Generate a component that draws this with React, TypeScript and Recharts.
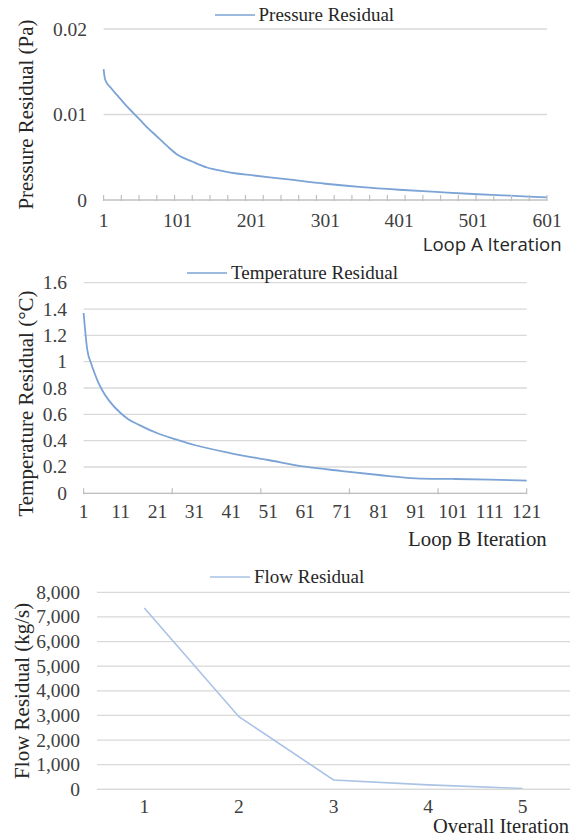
import React from 'react';
import { LineChart, Line, XAxis, YAxis, CartesianGrid, Legend, Label } from 'recharts';

const SERIF = '"Liberation Serif", "Times New Roman", serif';
const SANS = '"Open Sans", "Noto Sans", sans-serif';
const GRID = '#d9d9d9';
const AXIS = '#bfbfbf';
const TICK_TEXT = '#404040';
const TITLE_TEXT = '#262626';
const LINE_BLUE = '#7ba3d6';
const LINE_LIGHT = '#a9c2e5';

// Loop A - pressure residual (Pa) per iteration
const loopAIterations = [1, 3, 11, 21, 31, 41, 51, 61, 71, 81, 91, 101, 121, 141, 161, 181, 201, 251, 301, 351, 401, 451, 501, 551, 601];
const pressureResidual = [0.0153, 0.0141, 0.0131, 0.0121, 0.0111, 0.0102, 0.0093, 0.0084, 0.0076, 0.0068, 0.006, 0.0053, 0.0045, 0.0038, 0.0034, 0.0031, 0.0029, 0.0024, 0.0019, 0.0015, 0.0012, 0.00095, 0.0007, 0.0005, 0.0003];
const loopALabels = [1, 101, 201, 301, 401, 501, 601];
const loopATickMarks = [1, 25, 49, 73, 97, 121, 145, 169, 193, 217, 241, 265, 289, 313, 337, 361, 385, 409, 433, 457, 481, 505, 529, 553, 577, 601];
const pressureTicks = [0, 0.01, 0.02];

// Loop B - temperature residual (°C) per iteration
const loopBIterations = [1, 2, 3, 4, 5, 6, 8, 11, 13, 16, 21, 26, 31, 41, 51, 61, 71, 81, 91, 101, 111, 121];
const temperatureResidual = [1.37, 1.09, 0.99, 0.91, 0.84, 0.785, 0.7, 0.61, 0.565, 0.52, 0.456, 0.41, 0.367, 0.304, 0.253, 0.202, 0.169, 0.139, 0.114, 0.109, 0.104, 0.096];
const loopBLabels = [1, 11, 21, 31, 41, 51, 61, 71, 81, 91, 101, 111, 121];
const loopBTickMarks = [1, 25, 49, 73, 97, 121];
const temperatureTicks = [0, 0.2, 0.4, 0.6, 0.8, 1, 1.2, 1.4, 1.6];

// Overall iteration - flow residual (kg/s)
const overallIterations = ['1', '2', '3', '4', '5'];
const flowResidual = [7360, 2950, 380, 180, 30];
const flowTicks = [0, 1000, 2000, 3000, 4000, 5000, 6000, 7000, 8000];

const pressureData = loopAIterations.map((it, i) => ({ it, value: pressureResidual[i] }));
const temperatureData = loopBIterations.map((it, i) => ({ it, value: temperatureResidual[i] }));
const flowData = overallIterations.map((it, i) => ({ it, value: flowResidual[i] }));

const mergeTicks = (a: number[], b: number[]) => Array.from(new Set([...a, ...b])).sort((p, q) => p - q);

const TICK_FONT = 19.5;

// x tick: excel style - labels and tick marks on different intervals
const iterationTick = (labels: number[], marks: number[], labelDy: number) => (props: any) => {
  const { x, y, payload } = props;
  const v = payload.value;
  return (
    <g>
      {marks.includes(v) && <line x1={x} y1={y - 5} x2={x} y2={y + 1} stroke={AXIS} strokeWidth={1.2} />}
      {labels.includes(v) && (
        <text x={x} y={y + labelDy} textAnchor="middle" dominantBaseline="central" style={{ fontFamily: SERIF, fontSize: TICK_FONT }} fill={TICK_TEXT}>
          {v}
        </text>
      )}
    </g>
  );
};

const categoryTick = (labelDy: number) => (props: any) => {
  const { x, y, payload } = props;
  return (
    <text x={x} y={y + labelDy} textAnchor="middle" dominantBaseline="central" style={{ fontFamily: SERIF, fontSize: TICK_FONT }} fill={TICK_TEXT}>
      {payload.value}
    </text>
  );
};

const valueTick = (format: (v: number) => string) => (props: any) => {
  const { x, y, payload } = props;
  return (
    <text x={x} y={y} textAnchor="end" dominantBaseline="central" style={{ fontFamily: SERIF, fontSize: TICK_FONT }} fill={TICK_TEXT}>
      {format(payload.value)}
    </text>
  );
};

const yTitle = (text: string, x: number, shift: number) => (props: any) => {
  const vb = props.viewBox;
  const cy = vb.y + vb.height / 2 + shift;
  return (
    <text x={x} y={cy} transform={`rotate(-90 ${x} ${cy})`} textAnchor="middle" dominantBaseline="central" style={{ fontFamily: SERIF, fontSize: 21 }} fill={TITLE_TEXT}>
      {text}
    </text>
  );
};

const xTitle = (text: string, dx: number, dy: number, font: string, size: number) => (props: any) => {
  const vb = props.viewBox;
  return (
    <text x={vb.x + vb.width + dx} y={vb.y + dy} textAnchor="end" dominantBaseline="central" style={{ fontFamily: font, fontSize: size }} fill={TITLE_TEXT}>
      {text}
    </text>
  );
};

const legendContent = (label: string, color: string) => () => (
  <div style={{ display: 'flex', alignItems: 'center', fontFamily: SERIF, fontSize: 19, color: TITLE_TEXT, lineHeight: '22px', whiteSpace: 'nowrap' }}>
    <svg width={40} height={4} style={{ display: 'block' }}>
      <line x1={0} y1={2} x2={40} y2={2} stroke={color} strokeWidth={1.5} />
    </svg>
    <span style={{ marginLeft: 4 }}>{label}</span>
  </div>
);

export default function App() {
  return (
    <div style={{ position: 'absolute', left: 0, top: 0, width: 570, height: 838, overflow: 'hidden', background: '#fff' }}>
      <LineChart width={570} height={255} data={pressureData} margin={{ top: 29, right: 23, left: 0, bottom: 25 }}>
        <CartesianGrid vertical={false} stroke={GRID} strokeWidth={1.3} />
        <XAxis
          dataKey="it"
          type="number"
          domain={[1, 601]}
          ticks={mergeTicks(loopALabels, loopATickMarks)}
          interval={0}
          height={30}
          tickSize={0}
          tickMargin={0}
          tickLine={false}
          axisLine={{ stroke: AXIS, strokeWidth: 1.2 }}
          tick={iterationTick(loopALabels, loopATickMarks, 20)}
        >
          <Label content={xTitle('Loop A Iteration', 14.7, 43, SANS, 18.6)} />
        </XAxis>
        <YAxis
          type="number"
          domain={[0, 0.02]}
          ticks={pressureTicks}
          interval={0}
          width={103.6}
          tickSize={0}
          tickMargin={16.6}
          axisLine={false}
          tickLine={false}
          tick={valueTick((v) => String(v))}
        >
          <Label content={yTitle('Pressure Residual (Pa)', 26, 0)} />
        </YAxis>
        <Legend verticalAlign="middle" align="center" layout="horizontal" wrapperStyle={{ top: 4, left: 214.5, width: 'auto' }} content={legendContent('Pressure Residual', LINE_BLUE)} />
        <Line type="monotone" dataKey="value" name="Pressure Residual" stroke={LINE_BLUE} strokeWidth={1.8} dot={false} activeDot={false} isAnimationActive={false} />
      </LineChart>

      <LineChart width={570} height={295} data={temperatureData} margin={{ top: 27.7, right: 43.3, left: 0, bottom: 26.7 }}>
        <CartesianGrid vertical={false} stroke={GRID} strokeWidth={1.3} />
        <XAxis
          dataKey="it"
          type="number"
          domain={[1, 121]}
          ticks={mergeTicks(loopBLabels, loopBTickMarks)}
          interval={0}
          height={30}
          tickSize={0}
          tickMargin={0}
          tickLine={false}
          axisLine={{ stroke: AXIS, strokeWidth: 1.2 }}
          tick={iterationTick(loopBLabels, loopBTickMarks, 18.5)}
        >
          <Label content={xTitle('Loop B Iteration', 20, 45.3, SERIF, 20.8)} />
        </XAxis>
        <YAxis
          type="number"
          domain={[0, 1.6]}
          ticks={temperatureTicks}
          interval={0}
          width={83.6}
          tickSize={0}
          tickMargin={16.6}
          axisLine={false}
          tickLine={false}
          tick={valueTick((v) => String(Number(v.toFixed(1))))}
        >
          <Label content={yTitle('Temperature Residual (°C)', 26, 15.5)} />
        </YAxis>
        <Legend verticalAlign="middle" align="center" layout="horizontal" wrapperStyle={{ top: 7, left: 187, width: 'auto' }} content={legendContent('Temperature Residual', LINE_BLUE)} />
        <Line type="monotone" dataKey="value" name="Temperature Residual" stroke={LINE_BLUE} strokeWidth={1.8} dot={false} activeDot={false} isAnimationActive={false} />
      </LineChart>

      <LineChart width={570} height={288} data={flowData} margin={{ top: 42.3, right: 0, left: 0, bottom: 18.7 }}>
        <CartesianGrid vertical={false} stroke={GRID} strokeWidth={1.3} />
        <XAxis
          dataKey="it"
          type="category"
          padding={{ left: 47.3, right: 47.3 }}
          interval={0}
          height={30}
          tickSize={0}
          tickMargin={0}
          tickLine={false}
          axisLine={{ stroke: GRID, strokeWidth: 1.3 }}
          tick={categoryTick(17)}
        >
          <Label content={xTitle('Overall Iteration', -1, 36.7, SERIF, 20.5)} />
        </XAxis>
        <YAxis
          type="number"
          domain={[0, 8000]}
          ticks={flowTicks}
          interval={0}
          width={97}
          tickSize={0}
          tickMargin={17}
          axisLine={false}
          tickLine={false}
          tick={valueTick((v) => v.toLocaleString('en-US'))}
        >
          <Label content={yTitle('Flow Residual (kg/s)', 22, 0)} />
        </YAxis>
        <Legend verticalAlign="middle" align="center" layout="horizontal" wrapperStyle={{ top: 15.7, left: 210, width: 'auto' }} content={legendContent('Flow Residual', LINE_LIGHT)} />
        <Line type="linear" dataKey="value" name="Flow Residual" stroke={LINE_LIGHT} strokeWidth={1.6} dot={false} activeDot={false} isAnimationActive={false} />
      </LineChart>
    </div>
  );
}
